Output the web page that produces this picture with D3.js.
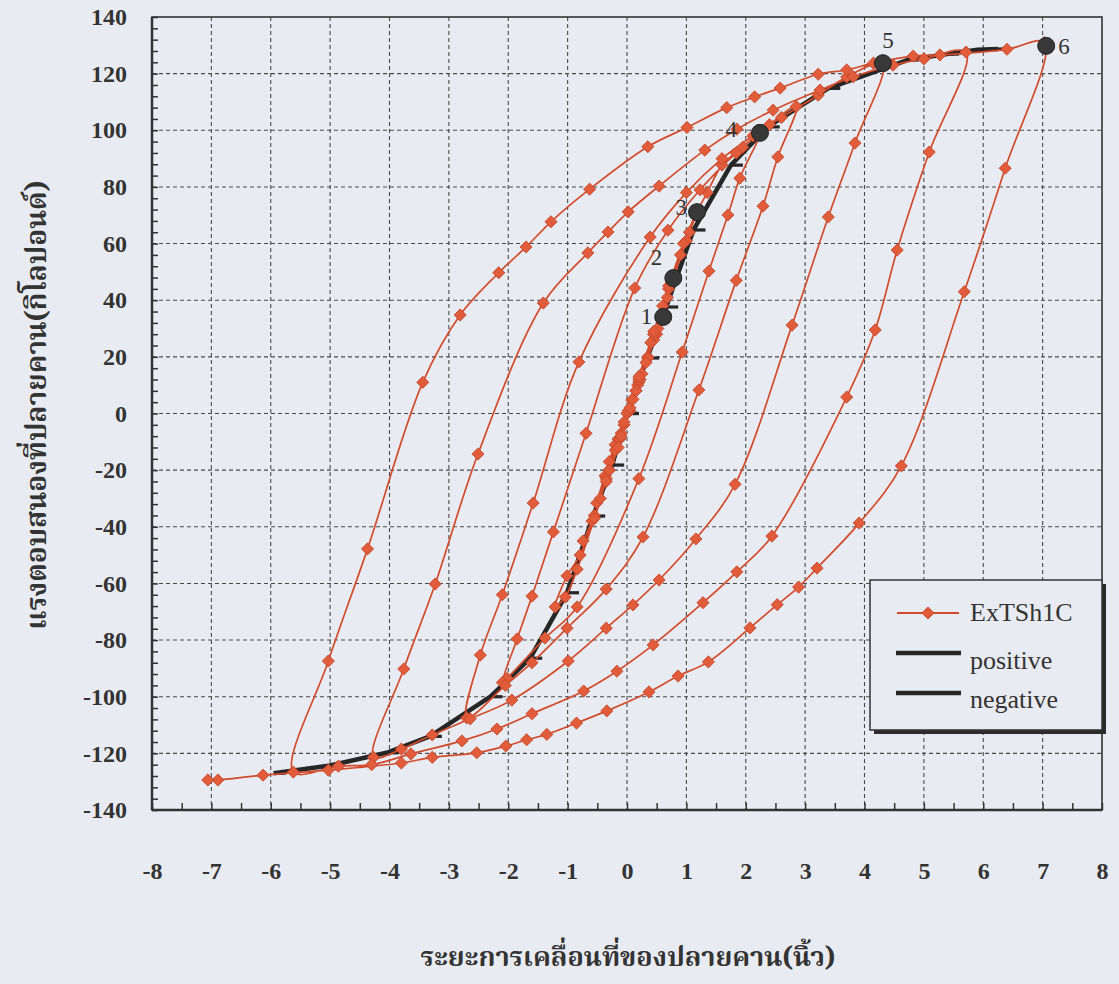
<!DOCTYPE html>
<html>
<head>
<meta charset="utf-8">
<script src="https://cdn.jsdelivr.net/npm/d3@7"></script>
<style>
  html, body { margin: 0; padding: 0; background: #e8ecf2; }
  svg { display: block; }
</style>
</head>
<body>
<svg id="chart" width="1119" height="984"></svg>
<script>
// ---- Axis tick values ----
const xTicks = d3.range(-8, 9, 1);
const yTicks = d3.range(-140, 141, 20);
const xMinor = d3.range(-8, 8.01, 0.5);
const yMinor = d3.range(-140, 140.01, 4);

// ---- ExTSh1C: cyclic test record, branch by branch (displacement in., load kips) ----
const smallCycles = [
  [0,0],[0.08,4.8],[0.2,11],[0.35,20],
  [0.22,12],[0.05,1],[-0.1,-7],[-0.2,-11],[-0.3,-17],
  [-0.15,-9],[0.02,1],[0.18,10],[0.35,19.5],[0.5,28],[0.61,34.5],
  [0.45,26],[0.25,14],[0.05,2],[-0.2,-13],[-0.37,-22],[-0.51,-31.6],
  [-0.35,-23],[-0.12,-9],[0.1,5],[0.32,18],[0.52,30],[0.68,41],[0.78,47.8],
  [0.6,38],[0.4,25],[0.15,8],[-0.1,-8],[-0.35,-24],[-0.59,-38],[-0.74,-45],
  [-0.55,-36],[-0.3,-20],[-0.05,-4],[0.2,12],[0.45,28],[0.7,44],[0.9,56],[1.05,64],[1.18,71.1],
  [1.0,61],[0.75,46],[0.45,28],[0.15,8],[-0.15,-12],[-0.45,-30],[-0.79,-50],[-1.01,-57.3],[-1.21,-68.3]
];
const load2 = [
  [-1.04,-64.8],[-0.84,-55],[-0.55,-37],[-0.3,-20],[-0.05,-3],[0.2,13],[0.45,29],[0.7,45],
  [0.95,60],[1.15,70],[1.35,78],[1.6,87.7],[1.95,94],[2.24,99.1]
];
const unload2 = [
  [1.9,83.1],[1.7,70.1],[1.38,50.3],[0.93,21.7],[0.2,-23],[-0.84,-68.3],[-1.38,-79.3],[-2.02,-93.5],[-2.1,-95]
];
const load3 = [
  [-1.85,-79.6],[-1.6,-64.5],[-1.24,-41.8],[-0.69,-7],[0.13,44.3],[0.69,64.7],[1.23,79],
  [1.84,92],[2.4,102],[2.85,108.4]
];
const unload3 = [
  [2.54,90.6],[2.29,73.2],[1.84,47],[1.21,8.3],[0.27,-43.6],[-0.35,-62],[-1.01,-75.8],
  [-1.6,-88],[-2.05,-96],[-2.7,-107.5]
];
const load4 = [
  [-2.47,-85.3],[-2.1,-64],[-1.58,-31.6],[-0.81,18.2],[0.39,62.3],[1.0,78],[1.6,90],
  [2.12,98],[2.6,104.5],[3.22,112.4],[3.7,118.8],[4.31,123.7]
];
const unload4 = [
  [3.84,95.5],[3.39,69.4],[2.78,31.2],[1.82,-25],[1.16,-44.3],[0.54,-58.8],[0.1,-67.6],
  [-0.35,-75.8],[-0.99,-87.4],[-1.94,-101.2],[-2.64,-107.8],[-3.28,-113.5],[-3.8,-118.5],[-4.27,-121.4]
];
const load5 = [
  [-3.76,-90.2],[-3.23,-60.2],[-2.51,-14.3],[-1.41,39],[-0.66,56.7],[-0.32,64.1],[0.02,71.2],
  [0.54,80.3],[1.31,93],[1.85,100.4],[2.46,107.1],[3.25,114.2],[3.81,118.9],[4.48,123],
  [5.0,125.2],[5.71,127.6]
];
const unload5 = [
  [5.09,92.3],[4.55,57.7],[4.18,29.5],[3.7,5.8],[2.44,-43.3],[1.85,-55.9],[1.28,-66.8],
  [0.44,-81.7],[-0.17,-91],[-0.73,-98],[-1.6,-106],[-2.19,-111.4],[-2.78,-115.6],
  [-3.64,-120.2],[-4.3,-124],[-4.86,-124.5],[-5.62,-126.6]
];
const load6 = [
  [-5.03,-87.4],[-4.37,-47.8],[-3.44,11],[-2.81,34.8],[-2.16,49.7],[-1.7,58.8],[-1.28,67.7],
  [-0.63,79.2],[0.35,94.2],[1.01,101],[1.68,108],[2.15,111.8],[2.58,114.9],[3.22,119.8],
  [3.7,121.3],[4.15,123.7],[4.82,126.2],[5.27,126.6],[6.4,128.6],[7.03,131]
];
const unload6 = [
  [6.37,86.6],[5.68,43],[4.62,-18.5],[3.91,-38.7],[3.2,-54.6],[2.89,-61.3],[2.53,-67.5],
  [2.07,-75.7],[1.37,-87.7],[0.86,-92.7],[0.37,-98.3],[-0.34,-105],[-0.85,-109.3],
  [-1.35,-113.3],[-1.69,-115.2],[-2.04,-117.4],[-2.53,-119.8],[-3.28,-121.4],[-3.8,-123.4],
  [-5.03,-125.9],[-6.13,-127.7],[-6.89,-129.4],[-7.06,-129.4]
];

// ---- Backbone envelopes ----
const positive = [
  [0,0],[0.34,19.6],[0.66,37.6],[1.12,64.8],[1.75,87.7],[2.37,101.2],[3.39,114.8],
  [4.72,124.8],[5.39,126.9],[5.9,128.4],[6.25,128.7]
];
const negative = [
  [0,0],[-0.25,-18.2],[-0.57,-36.2],[-1.01,-63.3],[-1.63,-86.4],[-2.3,-100],[-3.32,-114],
  [-4.05,-119.8],[-5.0,-124.3],[-5.95,-127]
];

// ---- Peak points of each displacement level ----
const peakX = [0.61, 0.78, 1.18, 2.24, 4.31, 7.06];
const peakY = [34.1, 47.8, 71.1, 99.1, 123.7, 129.8];
const peakLabels = ["1", "2", "3", "4", "5", "6"];

const experiment = [].concat(smallCycles, load2, unload2, load3, unload3,
                             load4, unload4, load5, unload5, load6, unload6);

// ---- Chart frame ----
const svg = d3.select("#chart");
const W = 1119, H = 984;
const plot = { left: 152, right: 1102, top: 17, bottom: 810 };
const bg = "#e8ecf2";
const ink = "#333";
const serif = "'Liberation Serif', 'Times New Roman', serif";
const thai = "'Noto Serif Thai', 'Norasi', 'Kinnari', 'Garuda', 'Loma', 'Noto Sans Thai', serif";
const plainNumber = d => String(d);

svg.append("rect").attr("width", W).attr("height", H).attr("fill", bg);

const x = d3.scaleLinear().domain([-8, 8]).range([plot.left, plot.right]);
const y = d3.scaleLinear().domain([-140, 140]).range([plot.bottom, plot.top]);

// dashed grid
const grid = svg.append("g").attr("stroke", "#4a4a4a").attr("stroke-width", 1.1)
  .attr("stroke-dasharray", "4,3");
grid.selectAll("line.v").data(xTicks.filter(v => v > -8 && v < 8)).join("line")
  .attr("x1", d => x(d)).attr("x2", d => x(d)).attr("y1", y(140)).attr("y2", y(-140));
grid.selectAll("line.h").data(yTicks.filter(v => v > -140 && v < 140)).join("line")
  .attr("x1", x(-8)).attr("x2", x(8)).attr("y1", d => y(d)).attr("y2", d => y(d));

// minor ticks pointing into the plot
svg.append("g").attr("transform", `translate(${plot.left},0)`)
  .call(d3.axisLeft(y).tickValues(yMinor).tickSize(-6).tickFormat(""))
  .call(g => g.select(".domain").remove())
  .call(g => g.selectAll("line").attr("stroke", ink).attr("stroke-width", 1.5));
svg.append("g").attr("transform", `translate(0,${plot.bottom})`)
  .call(d3.axisBottom(x).tickValues(xMinor).tickSize(-7).tickFormat(""))
  .call(g => g.select(".domain").remove())
  .call(g => g.selectAll("line").attr("stroke", ink).attr("stroke-width", 1.5));

// tick labels
svg.append("g").attr("transform", `translate(${plot.left},0)`)
  .call(d3.axisLeft(y).tickValues(yTicks).tickSize(0).tickPadding(25).tickFormat(plainNumber))
  .call(g => g.select(".domain").remove())
  .call(g => g.selectAll("text").attr("font-family", serif).attr("font-size", 24)
    .attr("font-weight", "bold").attr("fill", ink));
svg.append("g").attr("transform", `translate(0,${plot.bottom})`)
  .call(d3.axisBottom(x).tickValues(xTicks).tickSize(0).tickPadding(52).tickFormat(plainNumber))
  .call(g => g.select(".domain").remove())
  .call(g => g.selectAll("text").attr("font-family", serif).attr("font-size", 24)
    .attr("font-weight", "bold").attr("fill", ink));

// plot border
svg.append("rect").attr("x", plot.left).attr("y", plot.top)
  .attr("width", plot.right - plot.left).attr("height", plot.bottom - plot.top)
  .attr("fill", "none").attr("stroke", ink).attr("stroke-width", 1.6);
svg.append("line").attr("x1", plot.left).attr("x2", plot.left).attr("y1", plot.top).attr("y2", plot.bottom)
  .attr("stroke", ink).attr("stroke-width", 2.5);
svg.append("line").attr("x1", plot.left).attr("x2", plot.right).attr("y1", plot.bottom).attr("y2", plot.bottom)
  .attr("stroke", ink).attr("stroke-width", 2.5);

// ---- Series ----
const smooth = d3.line().x(d => x(d[0])).y(d => y(d[1])).curve(d3.curveCatmullRom.alpha(0.5));
const straight = d3.line().x(d => x(d[0])).y(d => y(d[1]));
const black = "#262626";
const redLine = "#d24b2c";
const redFill = "#e05c3a";

// envelopes with dash markers
[positive, negative].forEach(series => {
  svg.append("path").datum(series).attr("d", straight)
    .attr("fill", "none").attr("stroke", black).attr("stroke-width", 4.5)
    .attr("stroke-linejoin", "round");
  svg.append("g").selectAll("rect").data(series).join("rect")
    .attr("x", d => x(d[0])).attr("y", d => y(d[1]) - 1.6)
    .attr("width", 12).attr("height", 3.2).attr("fill", black);
});

// experimental loops
svg.append("path").datum(experiment).attr("d", smooth)
  .attr("fill", "none").attr("stroke", redLine).attr("stroke-width", 1.7);
const diamond = d3.symbol(d3.symbolSquare, 74);
svg.append("g").selectAll("path").data(experiment).join("path")
  .attr("d", diamond)
  .attr("transform", d => `translate(${x(d[0])},${y(d[1])}) rotate(45)`)
  .attr("fill", redFill).attr("stroke", "#c4442a").attr("stroke-width", 0.8);

// peak circles and their numbers
const peaks = peakX.map((v, i) => ({ x: v, y: peakY[i], label: peakLabels[i] }));
const labelShift = [[-11, 0, "end"], [-11, -21, "end"], [-10, -5, "end"],
                    [-23, -3, "end"], [5, -23, "middle"], [12, 1, "start"]];
svg.append("g").selectAll("circle").data(peaks).join("circle")
  .attr("cx", d => x(d.x)).attr("cy", d => y(d.y)).attr("r", 8.5)
  .attr("fill", "#383838").attr("stroke", "#222").attr("stroke-width", 1);
svg.append("g").selectAll("text").data(peaks).join("text")
  .attr("x", (d, i) => x(d.x) + labelShift[i][0])
  .attr("y", (d, i) => y(d.y) + labelShift[i][1])
  .attr("text-anchor", (d, i) => labelShift[i][2])
  .attr("dominant-baseline", "central")
  .attr("font-family", serif).attr("font-size", 23).attr("fill", ink)
  .text(d => d.label);

// ---- Legend ----
const lg = svg.append("g").attr("transform", "translate(870,580)");
lg.append("rect").attr("x", 4).attr("y", 4).attr("width", 232).attr("height", 150).attr("fill", "#2b2b2b");
lg.append("rect").attr("width", 232).attr("height", 150).attr("fill", bg)
  .attr("stroke", ink).attr("stroke-width", 1.5);
lg.append("line").attr("x1", 27).attr("x2", 89).attr("y1", 33).attr("y2", 33)
  .attr("stroke", redLine).attr("stroke-width", 2);
lg.append("path").attr("d", diamond).attr("transform", "translate(58,33) rotate(45)")
  .attr("fill", redFill).attr("stroke", "#c4442a").attr("stroke-width", 0.8);
lg.append("line").attr("x1", 26).attr("x2", 91).attr("y1", 73).attr("y2", 73)
  .attr("stroke", black).attr("stroke-width", 4.5);
lg.append("line").attr("x1", 26).attr("x2", 91).attr("y1", 113).attr("y2", 113)
  .attr("stroke", black).attr("stroke-width", 4.5);
[["ExTSh1C", 41], ["positive", 89], ["negative", 128]].forEach(([t, yy]) => {
  lg.append("text").attr("x", 100).attr("y", yy).attr("font-family", serif)
    .attr("font-size", 26).attr("fill", ink).text(t);
});

// ---- Axis titles ----
svg.append("text").attr("x", 628).attr("y", 966).attr("text-anchor", "middle")
  .attr("font-family", thai).attr("font-weight", "bold").attr("font-size", 27).attr("fill", ink)
  .text("ระยะการเคลื่อนที่ของปลายคาน(นิ้ว)");
svg.append("text").attr("transform", "translate(46,405) rotate(-90)").attr("text-anchor", "middle")
  .attr("font-family", thai).attr("font-weight", "bold").attr("font-size", 28).attr("fill", ink)
  .text("แรงตอบสนองที่ปลายคาน(กิโลปอนด์)");
</script>
</body>
</html>
